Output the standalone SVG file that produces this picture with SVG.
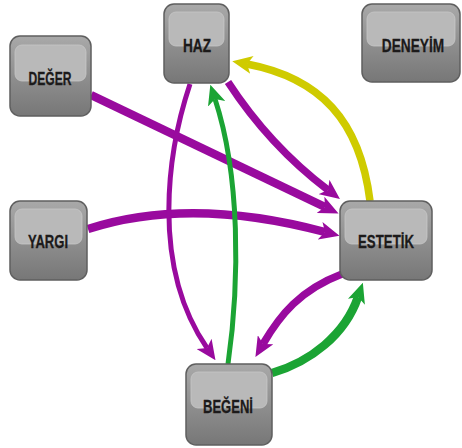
<svg xmlns="http://www.w3.org/2000/svg" width="462" height="448" viewBox="0 0 462 448">
<style>
.box{fill:url(#g);stroke:#5f5f5f;stroke-width:1.5}
.hi{fill:#b9b9b9;stroke:#c6c6c6;stroke-width:0.8}
.t{font-family:"Liberation Sans",Arial,sans-serif;font-weight:bold;font-size:18px;fill:#1c1a1a;stroke:#1c1a1a;stroke-width:0.3;text-anchor:middle}
.e{fill:none;stroke-linecap:butt}
.p{stroke:#990a9e}
.gr{stroke:#1ba434}
.y{stroke:#cfcb00}
</style>
<defs>
<linearGradient id="g" x1="0" y1="0" x2="0" y2="1">
<stop offset="0" stop-color="#a9a9a9"/>
<stop offset="0.5" stop-color="#8f8f8f"/>
<stop offset="1" stop-color="#777777"/>
</linearGradient>
<marker id="ap" viewBox="0 0 20 18" markerWidth="20" markerHeight="18" markerUnits="userSpaceOnUse" refX="5" refY="9" orient="auto"><path d="M0,0 L20,9 L0,18 L5,9 z" fill="#990a9e"/></marker>
<marker id="ag" viewBox="0 0 20 18" markerWidth="20" markerHeight="18" markerUnits="userSpaceOnUse" refX="5" refY="9" orient="auto"><path d="M0,0 L20,9 L0,18 L5,9 z" fill="#1ba434"/></marker>
<marker id="ay" viewBox="0 0 20 18" markerWidth="20" markerHeight="18" markerUnits="userSpaceOnUse" refX="5" refY="9" orient="auto"><path d="M0,0 L20,9 L0,18 L5,9 z" fill="#cfcb00"/></marker>
</defs>
<g id="connectors">
<path class="e p" stroke-width="8.5" d="M91,95 L325,207" marker-end="url(#ap)"/>
<path class="e p" stroke-width="7.5" d="M228,82 C258,128 295,165 328,190" marker-end="url(#ap)"/>
<path class="e p" stroke-width="8.5" d="M88,229 Q190,196 325,232" marker-end="url(#ap)"/>
<path class="e y" stroke-width="7.5" d="M370,201 C360,120 320,78 247,64" marker-end="url(#ay)"/>
<path class="e p" stroke-width="5" d="M190,84 C168,150 150,265 207,348" marker-end="url(#ap)"/>
<path class="e gr" stroke-width="5" d="M228,364 C240,280 240,175 215,99" marker-end="url(#ag)"/>
<path class="e p" stroke-width="7.5" d="M342,274 C300,290 280,315 263,344" marker-end="url(#ap)"/>
<path class="e gr" stroke-width="8.5" d="M272,373 C310,362 345,335 358,297" marker-end="url(#ag)"/>
</g>
<g id="haz">
<rect class="box" x="164" y="4" width="65" height="79" rx="10"/>
<rect class="hi" x="169" y="12" width="55" height="34" rx="7"/>
<text class="t" x="197" y="52" textLength="28" lengthAdjust="spacingAndGlyphs">HAZ</text>
</g>
<g id="deger">
<rect class="box" x="10" y="36" width="81" height="80" rx="10"/>
<rect class="hi" x="15" y="45" width="71" height="36" rx="7"/>
<text class="t" x="50" y="85" textLength="43" lengthAdjust="spacingAndGlyphs">DEĞER</text>
</g>
<g id="deneyim">
<rect class="box" x="362" y="4" width="98" height="78" rx="10"/>
<rect class="hi" x="367" y="12" width="88" height="34" rx="7"/>
<text class="t" transform="translate(413,52) scale(0.76,1)" x="0" y="0">DENEYİM</text>
</g>
<g id="yargi">
<rect class="box" x="10" y="201" width="77" height="79" rx="10"/>
<rect class="hi" x="15" y="209" width="67" height="35" rx="7"/>
<text class="t" x="48" y="248" textLength="40" lengthAdjust="spacingAndGlyphs">YARGI</text>
</g>
<g id="estetik">
<rect class="box" x="340" y="201" width="92" height="79" rx="10"/>
<rect class="hi" x="345" y="209" width="82" height="35" rx="7"/>
<text class="t" x="386" y="248" textLength="56" lengthAdjust="spacingAndGlyphs">ESTETİK</text>
</g>
<g id="begeni">
<rect class="box" x="186" y="364" width="86" height="81" rx="10"/>
<rect class="hi" x="191" y="372" width="76" height="36" rx="7"/>
<text class="t" x="228" y="413" textLength="50" lengthAdjust="spacingAndGlyphs">BEĞENİ</text>
</g>
</svg>
